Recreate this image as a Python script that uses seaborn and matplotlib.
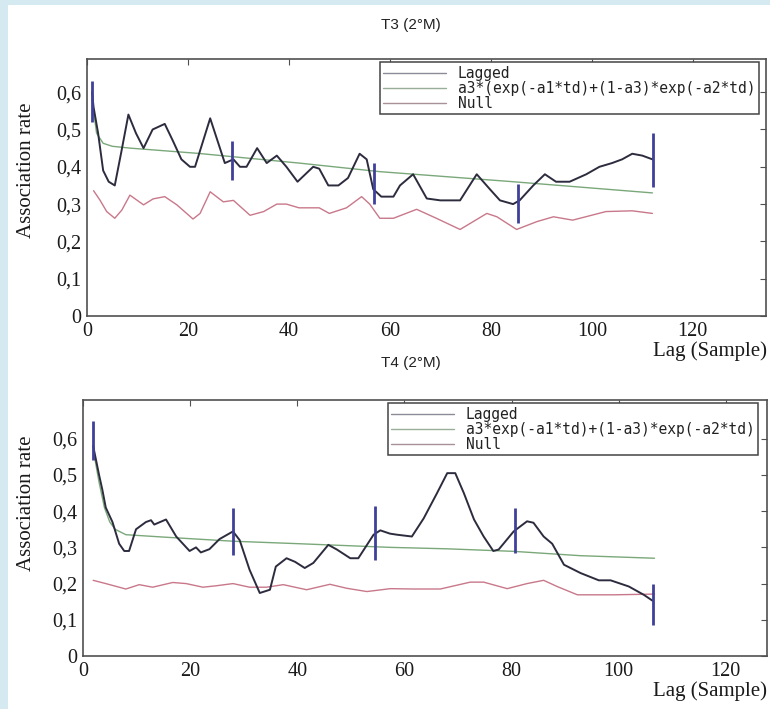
import matplotlib
matplotlib.use("Agg")
import matplotlib.pyplot as plt
import seaborn as sns
import pandas as pd
from matplotlib.patches import Rectangle
from matplotlib.lines import Line2D
from matplotlib.ticker import FuncFormatter

# ---------------- data ----------------
t3_lag_x = [1.0, 1.3, 2.2, 3.2, 4.3, 5.5, 6.8, 8.2, 9.7, 11.2, 13.0, 15.4, 17.0, 18.7, 20.4,
            21.4, 24.4, 27.3, 29.0, 30.3, 31.6, 33.7, 35.6, 37.6, 39.5, 41.7, 44.8, 46.0, 47.8,
            49.8, 51.7, 54.0, 55.4, 56.7, 58.3, 60.7, 62.0, 64.6, 67.3, 70.0, 71.2, 73.9, 77.2,
            79.8, 81.8, 84.4, 85.7, 88.4, 90.7, 92.9, 95.6, 98.9, 101.5, 104.0, 106.0, 108.0,
            110.0, 112.0]
t3_lag_y = [0.60, 0.56, 0.49, 0.39, 0.36, 0.35, 0.44, 0.54, 0.49, 0.45, 0.50, 0.515, 0.47, 0.42,
            0.40, 0.40, 0.53, 0.41, 0.42, 0.40, 0.40, 0.45, 0.41, 0.43, 0.40, 0.36, 0.40, 0.395,
            0.35, 0.35, 0.37, 0.435, 0.42, 0.34, 0.32, 0.32, 0.35, 0.38, 0.315, 0.31, 0.31, 0.31,
            0.38, 0.34, 0.31, 0.30, 0.31, 0.35, 0.38, 0.36, 0.36, 0.38, 0.40, 0.41, 0.42, 0.435,
            0.43, 0.42]
t3_fit_x = [1.0, 1.9, 3.2, 5.0, 8.6, 22.0, 42.0, 58.0, 84.4, 112.0]
t3_fit_y = [0.58, 0.49, 0.463, 0.455, 0.45, 0.436, 0.41, 0.387, 0.36, 0.33]
t3_null_x = [1.3, 2.6, 3.9, 5.5, 6.9, 8.5, 11.2, 13.1, 15.4, 17.8, 21.0, 22.4, 24.4, 27.0, 29.0,
             32.3, 35.0, 37.6, 39.5, 42.0, 46.0, 48.0, 51.4, 54.4, 56.0, 58.0, 60.7, 65.3, 69.2,
             73.9, 79.2, 81.2, 85.1, 89.1, 92.4, 96.2, 102.8, 108.0, 112.0]
t3_null_y = [0.336, 0.31, 0.28, 0.262, 0.284, 0.324, 0.298, 0.314, 0.32, 0.298, 0.26, 0.275, 0.333,
             0.306, 0.31, 0.27, 0.28, 0.30, 0.30, 0.29, 0.29, 0.275, 0.29, 0.32, 0.30, 0.262, 0.262,
             0.286, 0.262, 0.232, 0.275, 0.266, 0.232, 0.253, 0.266, 0.257, 0.28, 0.282, 0.275]
t3_err_x = [1.0, 28.8, 56.8, 85.4, 112.1]
t3_err_lo = [0.52, 0.365, 0.30, 0.25, 0.347]
t3_err_hi = [0.63, 0.47, 0.41, 0.355, 0.49]

t4_lag_x = [1.9, 3.0, 3.6, 4.25, 5.5, 6.75, 7.7, 8.6, 9.9, 11.75, 12.7, 13.3, 15.5, 17.4, 19.9,
            21.1, 22.0, 23.6, 25.5, 28.0, 29.25, 31.1, 33.0, 34.9, 36.0, 38.0, 39.6, 41.4, 43.0,
            45.8, 47.4, 49.9, 51.4, 54.25, 55.5, 57.3, 58.6, 61.4, 63.6, 66.1, 68.0, 69.5, 71.1,
            73.0, 74.8, 76.6, 77.6, 80.4, 82.9, 84.1, 86.0, 87.6, 89.8, 92.9, 96.3, 98.5, 101.9,
            104.7, 106.3]
t4_lag_y = [0.58, 0.50, 0.46, 0.41, 0.37, 0.31, 0.29, 0.29, 0.35, 0.37, 0.375, 0.363, 0.377, 0.33,
            0.29, 0.30, 0.286, 0.295, 0.323, 0.344, 0.32, 0.238, 0.174, 0.183, 0.247, 0.27, 0.26,
            0.243, 0.257, 0.307, 0.294, 0.27, 0.27, 0.335, 0.347, 0.338, 0.335, 0.33, 0.38, 0.45,
            0.505, 0.505, 0.45, 0.377, 0.33, 0.29, 0.294, 0.344, 0.372, 0.368, 0.33, 0.31, 0.252,
            0.229, 0.209, 0.209, 0.192, 0.169, 0.153]
t4_fit_x = [1.9, 3.0, 4.0, 5.0, 6.0, 8.0, 15.5, 28.0, 40.5, 57.4, 68.0, 80.4, 92.9, 106.7]
t4_fit_y = [0.57, 0.48, 0.41, 0.37, 0.35, 0.335, 0.328, 0.317, 0.31, 0.30, 0.296, 0.289, 0.277, 0.27]
t4_null_x = [1.9, 4.25, 8.0, 10.5, 13.0, 16.75, 19.25, 22.4, 24.9, 28.0, 31.1, 34.25, 37.4, 41.75,
             46.1, 49.25, 53.0, 57.4, 61.7, 66.7, 72.3, 74.8, 79.2, 82.9, 86.0, 88.5, 92.3, 99.2,
             106.7]
t4_null_y = [0.209, 0.20, 0.185, 0.197, 0.19, 0.203, 0.20, 0.19, 0.194, 0.20, 0.19, 0.19, 0.197,
             0.183, 0.198, 0.187, 0.178, 0.186, 0.185, 0.185, 0.204, 0.204, 0.186, 0.20, 0.209,
             0.192, 0.169, 0.169, 0.171]
t4_err_x = [1.9, 28.0, 54.6, 80.7, 106.5]
t4_err_lo = [0.54, 0.28, 0.266, 0.284, 0.086]
t4_err_hi = [0.65, 0.41, 0.414, 0.41, 0.20]

x_ticks = [0, 20, 40, 60, 80, 100, 120]
y_ticks = [0, 0.1, 0.2, 0.3, 0.4, 0.5, 0.6]
label_lagged = "Lagged"
label_fit_t3 = "a3*(exp(-a1*td)+(1-a3)*exp(-a2*td)"
label_fit_t4 = "a3*exp(-a1*td)+(1-a3)*exp(-a2*td)"
label_null = "Null"
titles = ["T3 (2\u00b0M)", "T4 (2\u00b0M)"]

# ---------------- style ----------------
sns.set_theme(style="white")
plt.rcParams["font.family"] = ["Liberation Serif", "DejaVu Serif"]

C_LAG = "#2c2c3e"
C_FIT = "#7aa87a"
C_NULL = "#c8788a"
C_ERR = "#40409a"
C_SPINE = "#505050"

W, H = 770, 709
fig = plt.figure(figsize=(W / 100, H / 100), dpi=100)
fig.patch.set_facecolor("#d5e9f1")
fig.patches.append(Rectangle((8 / W, 0), 1, 1 - 5 / H, transform=fig.transFigure,
                             facecolor="white", edgecolor="none", zorder=-10))


def px_axes(left, top, right, bottom):
    return fig.add_axes([left / W, 1 - bottom / H, (right - left) / W, (bottom - top) / H])


fmt = FuncFormatter(lambda v, p: "0" if abs(v) < 1e-9 else f"{v:.1f}".replace(".", ","))


def draw_panel(ax, xmax, ymax, lx, ly, fx, fy, nx, ny, ex, elo, ehi, fit_label, leg_anchor):
    sns.lineplot(x=nx, y=ny, ax=ax, color=C_NULL, lw=1.0, sort=False, estimator=None, legend=False)
    sns.lineplot(x=fx, y=fy, ax=ax, color=C_FIT, lw=1.0, sort=False, estimator=None, legend=False)
    sns.lineplot(x=lx, y=ly, ax=ax, color=C_LAG, lw=1.4, sort=False, estimator=None, legend=False)
    ax.vlines(ex, elo, ehi, colors=C_ERR, lw=2.0, zorder=5)
    ax.set_xlim(0, xmax)
    ax.set_ylim(0, ymax)
    ax.set_xticks(x_ticks)
    ax.set_yticks(y_ticks)
    ax.yaxis.set_major_formatter(fmt)
    ax.tick_params(direction="in", length=4, width=0.8, color=C_SPINE, top=True, right=True,
                   labelsize=14.5, labelcolor="#1a1a1a", pad=4)
    ax.set_xlabel("")
    ax.set_ylabel("")
    for s in ax.spines.values():
        s.set_color(C_SPINE)
        s.set_linewidth(1.2)
    handles = [Line2D([], [], color="#8c8c98", lw=1.0),
               Line2D([], [], color="#98ae98", lw=1.0),
               Line2D([], [], color="#a89298", lw=1.0)]
    leg = ax.legend(handles, [label_lagged, fit_label, label_null], loc="upper right",
                    bbox_to_anchor=leg_anchor, prop=dict(family="DejaVu Sans Mono", size=10.5),
                    frameon=True, fancybox=False, edgecolor="#444444", framealpha=1,
                    handlelength=4.3, handletextpad=0.8, labelspacing=0.0, borderpad=0.25,
                    borderaxespad=0)
    leg.get_frame().set_linewidth(1.1)
    for t in leg.get_texts():
        t.set_color("#222222")


# top panel (T3)
ax1 = px_axes(87, 59, 766, 316)
draw_panel(ax1, 134.5, 0.689, t3_lag_x, t3_lag_y, t3_fit_x, t3_fit_y, t3_null_x, t3_null_y,
           t3_err_x, t3_err_lo, t3_err_hi, label_fit_t3, ((759 - 87) / 679, (316 - 62) / 257))

# bottom panel (T4)
ax2 = px_axes(83, 400, 767, 656)
draw_panel(ax2, 127.7, 0.707, t4_lag_x, t4_lag_y, t4_fit_x, t4_fit_y, t4_null_x, t4_null_y,
           t4_err_x, t4_err_lo, t4_err_hi, label_fit_t4, ((758 - 83) / 684, (656 - 403) / 256))

# titles and axis labels
for title, yc in zip(titles, [25, 363]):
    fig.text(411 / W, 1 - yc / H, title, ha="center", va="center", fontsize=11,
             family=["Liberation Sans", "DejaVu Sans"], color="#222222")
for yc in [351, 691]:
    fig.text(767 / W, 1 - yc / H, "Lag (Sample)", ha="right", va="center", fontsize=15,
             color="#1a1a1a")
for yc in [170, 503]:
    fig.text(27 / W, 1 - yc / H, "Association rate", ha="center", va="center", rotation=90,
             fontsize=15, color="#1a1a1a")

fig.savefig("out.png", dpi=100, facecolor=fig.get_facecolor())
